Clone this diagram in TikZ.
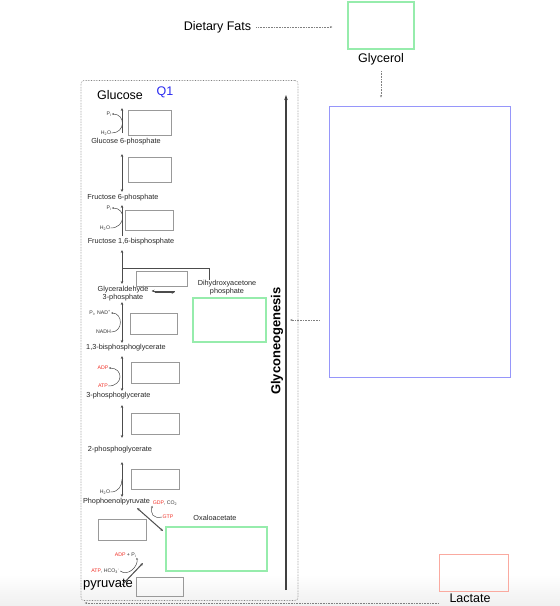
\documentclass[tikz,border=0pt]{standalone}
\usepackage{fontspec}
\setmainfont{Liberation Sans}
\usepackage{xcolor}
\definecolor{mint}{RGB}{150,236,172}
\definecolor{lilac}{RGB}{150,150,250}
\definecolor{salmon}{RGB}{250,170,160}
\definecolor{qblue}{RGB}{40,40,240}
\definecolor{redlab}{RGB}{240,50,40}
\usetikzlibrary{positioning,arrows.meta,calc}
\newcommand{\red}[1]{\textcolor{redlab}{#1}}

\begin{document}
\begin{tikzpicture}[x=1pt, y=-1pt, >={Stealth[length=3pt,width=2.6pt]},
  met/.style={font=\fontsize{7.3}{8}\selectfont, inner sep=0pt, text=black!85, align=center},
  cof/.style={font=\fontsize{5.2}{6}\selectfont, inner sep=0.3pt, text=black!80},
  big/.style={font=\fontsize{12.5}{14}\selectfont, inner sep=0pt},
  emptybox/.style 2 args={draw=black!40, line width=0.9pt, inner sep=0pt, minimum width=#1pt, minimum height=#2pt},
  mintbox/.style 2 args={draw=mint, line width=1.1pt, inner sep=0pt, minimum width=#1pt, minimum height=#2pt},
  rxn/.style={draw=black!70, line width=1pt, ->},
  rxnboth/.style={draw=black!70, line width=1pt, <->},
  cofarc/.style={draw=black!70, line width=0.5pt, -{Stealth[length=2pt,width=1.8pt]}},
  link/.style={draw=black!50, densely dotted, line width=0.6pt, -{Stealth[length=2.5pt,width=2pt]}}]
\useasboundingbox (0,0) rectangle (560,606);
\fill[top color=white, bottom color=black!6, draw=none] (0,574) rectangle (560,606);

% fats and glycerol
\node[big] (fats) at (217.5,27) {Dietary Fats};
\node[mintbox={66}{47}] (glybox) at (381,25.5) {};
\node[big] (glycerol) at (381,59) {Glycerol};
\node[draw=lilac, line width=0.8pt, minimum width=181pt, minimum height=271pt] (bluebox) at (419.5,241.5) {};
\node[draw=salmon, line width=0.8pt, minimum width=69pt, minimum height=37pt] (lacbox) at (473.5,572.5) {};
\node[big] (lactate) at (470,598) {Lactate};

% pathway frame
\node[draw=black!50, densely dotted, line width=0.6pt, rounded corners=3pt, minimum width=217pt, minimum height=520pt] (frame) at (189.5,340.5) {};
\coordinate (gbot) at (286,590);
\coordinate (gtop) at (286,95);
\draw[draw=black!75, line width=1.3pt, -{Stealth[length=5pt,width=3.5pt]}] (gbot) -- (gtop);
\node[big, font=\fontsize{13}{14}\selectfont\bfseries, rotate=90] (gng) at (277,341) {Glyconeogenesis};

% metabolites
\node[big] (glc) at (120,95) {Glucose};
\node[big, text=qblue] (q1) at (165,92) {Q1};
\node[met] (g6p) at (126,142) {Glucose 6-phosphate};
\node[met] (f6p) at (123,198) {Fructose 6-phosphate};
\node[met] (fbp) at (131,242) {Fructose 1,6-bisphosphate};
\node[met] (gap) at (123,294) {Glyceraldehyde\\3-phosphate};
\node[met] (dhap) at (227,288) {Dihydroxyacetone\\phosphate};
\node[met] (bpg) at (126,348) {1,3-bisphosphoglycerate};
\node[met] (pg3) at (118.5,396) {3-phosphoglycerate};
\node[met] (pg2) at (120,450) {2-phosphoglycerate};
\node[met] (pep) at (116.5,502) {Phophoenolpyruvate};
\node[met] (oaa) at (215,518) {Oxaloacetate};
\node[big, font=\fontsize{13}{14}\selectfont] (pyr) at (108,585) {pyruvate};

% empty answer boxes
\node[emptybox={43}{25}] (e1) at (149.5,122.5) {};
\node[emptybox={43}{25}] (e2) at (149.5,169.5) {};
\node[emptybox={48}{20}] (e3) at (149,220) {};
\node[emptybox={51}{15}] (e4) at (161.5,278.5) {};
\node[emptybox={47}{21}] (e5) at (153.5,323.5) {};
\node[emptybox={48}{21}] (e6) at (155,372.5) {};
\node[emptybox={48}{21}] (e7) at (155,423.5) {};
\node[emptybox={48}{20}] (e8) at (155,479) {};
\node[emptybox={48}{21}] (e9) at (122,529.5) {};
\node[emptybox={47}{19}] (e10) at (159.5,586.5) {};
\node[mintbox={73}{44}] (m1) at (229.5,320) {};
\node[mintbox={101}{44}] (m2) at (216.5,549) {};

% cofactors
\node[cof] (pi1) at (109,114) {P\textsubscript{i}};
\node[cof] (w1) at (106,133) {H\textsubscript{2}O};
\node[cof] (pi3) at (109,208) {P\textsubscript{i}};
\node[cof] (w3) at (105,228) {H\textsubscript{2}O};
\node[cof] (nad) at (100,313) {P\textsubscript{i}, NAD\textsuperscript{+}};
\node[cof] (nadh) at (103.5,332) {NADH};
\node[cof] (adp6) at (103,368) {\red{ADP}};
\node[cof] (atp6) at (103,386) {\red{ATP}};
\node[cof] (w8) at (105,492) {H\textsubscript{2}O};
\node[cof] (gdp) at (165,503) {\red{GDP}, CO\textsubscript{2}};
\node[cof] (gtp) at (168,517) {\red{GTP}};
\node[cof] (adp) at (125.5,555) {\red{ADP} + P\textsubscript{i}};
\node[cof] (atp) at (105.5,571) {\red{ATP}, HCO\textsubscript{3}\textsuperscript{-}};

% reaction steps on the spine
\foreach \i/\t/\b in {1/108/133, 2/154/192, 3/205/236, 4/250/284, 5/302/343, 6/356/391, 7/405/438, 8/462/497} {
  \coordinate (t\i) at (122,\t);
  \coordinate (b\i) at (122,\b);
}
\draw[rxn] (b1) -- (t1);
\draw[rxn] (b3) -- (t3);
\foreach \i in {2,4,5,6,7,8}
  \draw[rxnboth] (t\i) -- (b\i);
\coordinate (fork) at (122,268);
\draw[draw=black!70, line width=0.8pt] (fork) -| ([xshift=-18pt]dhap.north);
\draw[draw=black!70, line width=0.8pt, <-, shorten <=3pt, shorten >=23pt] ([yshift=3pt]gap.east) -- ([yshift=3pt]gap.east -| dhap.west);
\draw[draw=black!70, line width=0.8pt, ->, shorten <=6pt, shorten >=23pt] ([yshift=1.5pt]gap.east) -- ([yshift=1.5pt]gap.east -| dhap.west);
\coordinate (d1) at (137,508);
\coordinate (d2) at (163,531);
\draw[rxnboth] (d2) -- (d1);
\coordinate (p1) at (122,585);
\coordinate (p2) at (143,563);
\draw[rxn] (p1) -- (p2);

% cofactor arcs
\draw[cofarc] (w1.east) .. controls +(14,0) and +(14,0) .. (pi1.east);
\draw[cofarc] (w3.east) .. controls +(15,0) and +(15,0) .. (pi3.east);
\draw[cofarc] (nadh.east) .. controls +(12,0) and +(12,0) .. (nad.east);
\draw[cofarc] (atp6.east) .. controls +(15,0) and +(15,0) .. (adp6.east);
\draw[cofarc, -] (w8.east) .. controls +(8,0) and +(0,6) .. ($(t8)!0.5!(b8)$);
\draw[cofarc] (gtp.west) .. controls +(-9,2) and +(-2,8) .. (gdp.south west);
\draw[cofarc] (atp.east) .. controls +(8,6) and +(2,8) .. (adp.south east);

% dotted links
\draw[link, shorten <=5pt, shorten >=15pt] (fats.east) -- (fats.east -| glybox.west);
\draw[link, shorten <=6pt, shorten >=8pt] (glycerol.south) -- (glycerol.south |- bluebox.north);
\draw[link, shorten <=9pt, shorten >=4pt] (bluebox.west |- m1.east) -- (gtop |- m1.east);
\draw[link, shorten >=4pt] (lacbox.south west |- 0,603) -- (frame.west |- 0,603);
\end{tikzpicture}
\end{document}
